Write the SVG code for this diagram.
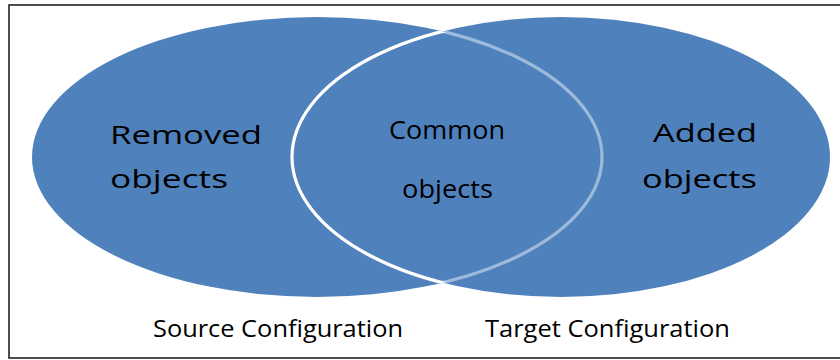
<svg xmlns="http://www.w3.org/2000/svg" width="840" height="360" viewBox="0 0 840 360">
  <style>
    .blob { fill: #4F81BD; }
    .lbl { font-family: "Open Sans", "Liberation Sans", sans-serif; fill: #000; }
    .in { font-size: 26px; }
    .cap { font-size: 24.5px; }
  </style>
  <defs>
    <clipPath id="rightClip">
      <ellipse cx="561" cy="157" rx="269" ry="140"/>
    </clipPath>
  </defs>
  <rect x="0" y="0" width="840" height="360" fill="#fff"/>
  <rect x="9" y="5" width="840" height="353" fill="none" stroke="#222" stroke-width="1.6"/>
  <g id="source">
    <ellipse class="blob" cx="317" cy="157" rx="285" ry="140"/>
  </g>
  <g id="target">
    <ellipse class="blob" cx="561" cy="157" rx="269" ry="140"/>
    <ellipse cx="561" cy="157" rx="269" ry="140" fill="none" stroke="#fff" stroke-width="3.2" clip-path="url(#srcClip)"/>
  </g>
  <defs>
    <clipPath id="srcClip">
      <ellipse cx="317" cy="157" rx="285" ry="140"/>
    </clipPath>
  </defs>
  <g id="source-outline">
    <ellipse cx="317" cy="157" rx="285" ry="140" fill="none" stroke="#fff" stroke-opacity="0.45" stroke-width="3.2" clip-path="url(#rightClip)"/>
  </g>
  <g id="removed">
    <text class="lbl in" x="110" y="144" textLength="152" lengthAdjust="spacingAndGlyphs">Removed</text>
    <text class="lbl in" x="110" y="188" textLength="118" lengthAdjust="spacingAndGlyphs">objects</text>
  </g>
  <g id="common">
    <text class="lbl in" x="389" y="139" textLength="116" lengthAdjust="spacingAndGlyphs">Common</text>
    <text class="lbl in" x="402" y="198" textLength="91" lengthAdjust="spacingAndGlyphs">objects</text>
  </g>
  <g id="added">
    <text class="lbl in" x="653" y="142" textLength="104" lengthAdjust="spacingAndGlyphs">Added</text>
    <text class="lbl in" x="642" y="188" textLength="115" lengthAdjust="spacingAndGlyphs">objects</text>
  </g>
  <g id="captions">
    <text class="lbl cap" x="153" y="337" textLength="250" lengthAdjust="spacingAndGlyphs">Source Configuration</text>
    <text class="lbl cap" x="485" y="337" textLength="245" lengthAdjust="spacingAndGlyphs">Target Configuration</text>
  </g>
</svg>
